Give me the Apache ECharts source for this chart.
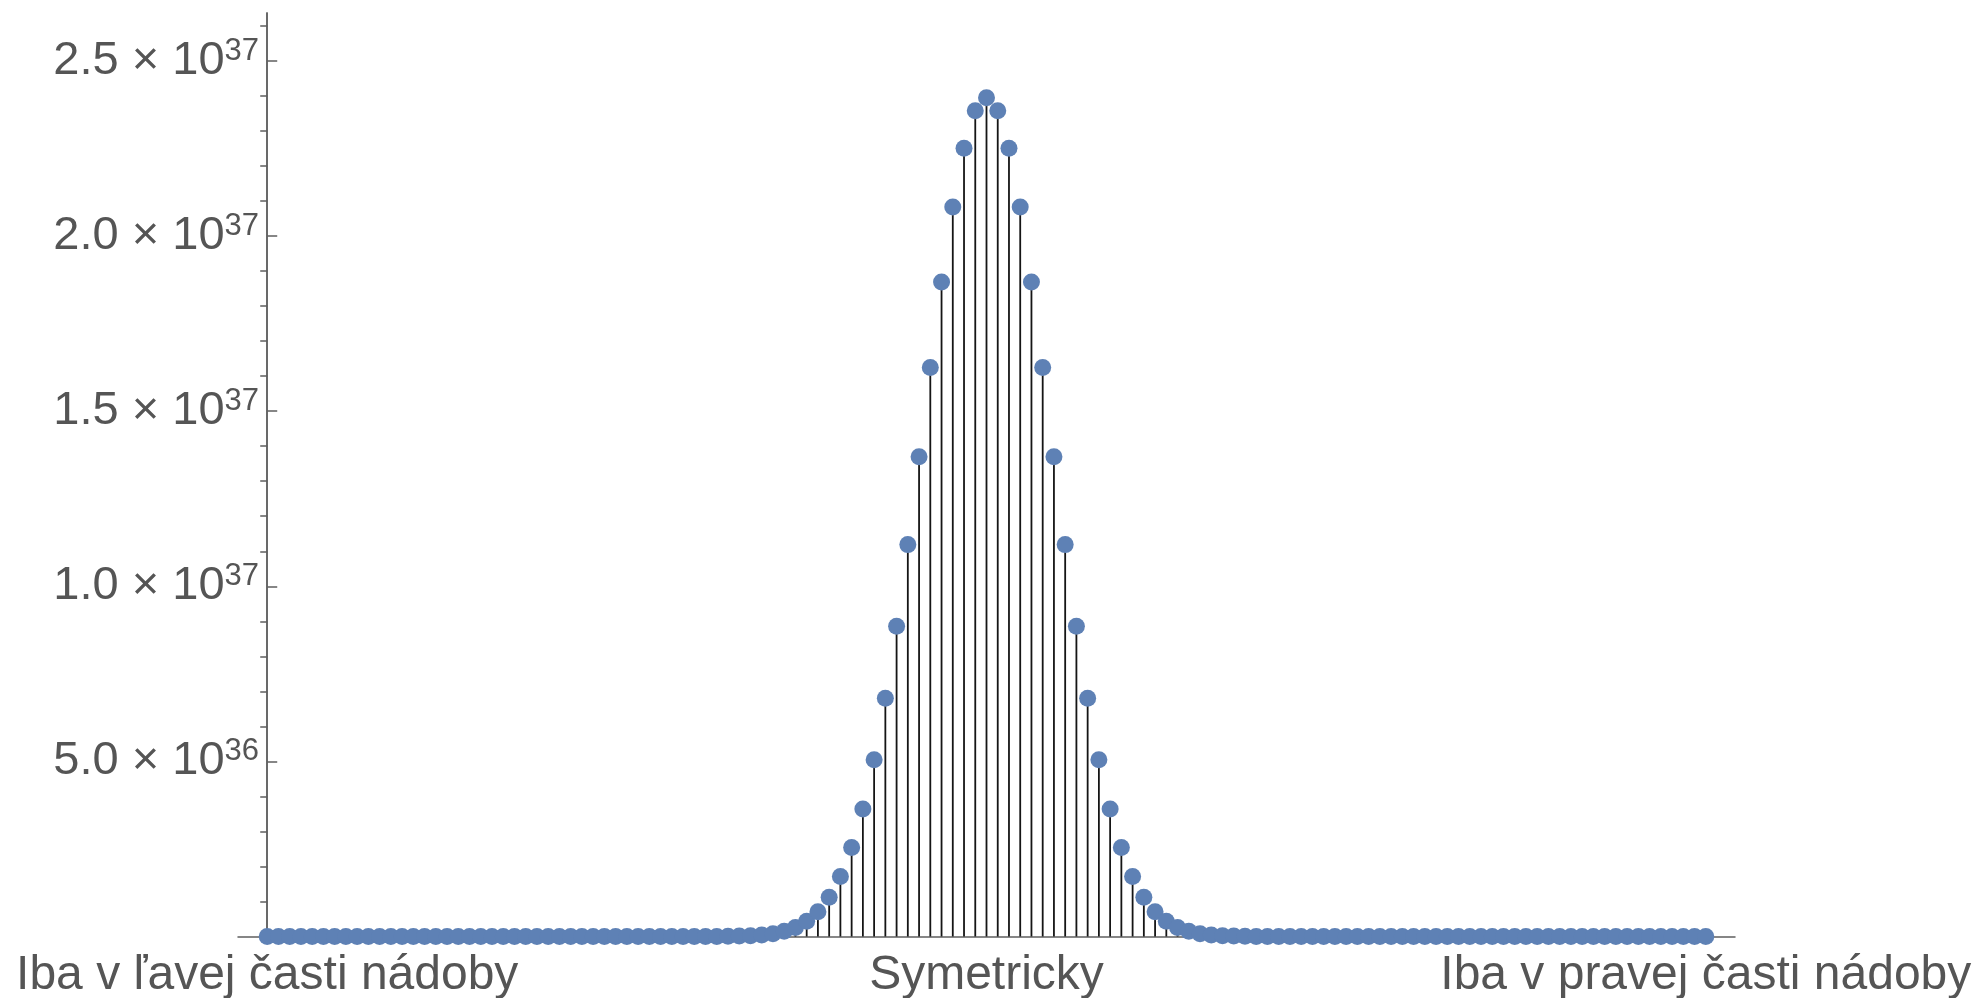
<!DOCTYPE html>
<html><head><meta charset="utf-8">
<script src="https://cdn.jsdelivr.net/npm/echarts@6/dist/echarts.min.js"></script>
<style>html,body{margin:0;padding:0;background:#fff}#c{width:1980px;height:998px}</style>
</head><body><div id="c"></div>
<script>
// values in units of 1e36, one per position 0..128
const counts = [
  0,0,0,0,0,0,0,0,0,0,
  0,0,0,0,0,0,0,0,0,0,
  0,0,0,0,0,0,0,0,0,0,
  0,0,0,0,0,0,0,0,0,0.00115,
  0.00255,0.00547,0.0113,0.0227,0.0438,0.0817,0.147,0.257,0.434,0.709,
  1.12,1.71,2.54,3.64,5.05,6.80,8.86,11.19,13.70,16.25,
  18.69,20.83,22.51,23.58,23.95,23.58,22.51,20.83,18.69,16.25,
  13.70,11.19,8.86,6.80,5.05,3.64,2.54,1.71,1.12,0.709,
  0.434,0.257,0.147,0.0817,0.0438,0.0227,0.0113,0.00547,0.00255,0.00115,
  0,0,0,0,0,0,0,0,0,0,
  0,0,0,0,0,0,0,0,0,0,
  0,0,0,0,0,0,0,0,0,0,
  0,0,0,0,0,0,0,0,0
];
const xLabelPositions = [0, 64, 128];
const xLabels = ['Iba v ľavej časti nádoby', 'Symetricky', 'Iba v pravej časti nádoby'];
const yTickValues = [5, 10, 15, 20, 25];
const yTickMantissas = ['5.0', '1.0', '1.5', '2.0', '2.5'];
const yTickExponents = ['36', '37', '37', '37', '37'];
const yMinorTicks = [1,2,3,4,6,7,8,9,11,12,13,14,16,17,18,19,21,22,23,24,26];

const FONT = "'Liberation Sans', Arial, sans-serif";
const AXIS_COLOR = '#5f5f5f';
const TEXT_COLOR = '#555555';
const points = counts.map((v, i) => [i, v]);

const chart = echarts.init(document.getElementById('c'), null, {renderer: 'canvas'});
chart.setOption({
  animation: false,
  backgroundColor: '#ffffff',
  grid: {left: 238, right: 245, top: 13, bottom: 61.5, containLabel: false, outerBoundsMode: 'none'},
  xAxis: {
    type: 'value', min: -2.6, max: 130.6,
    axisLine: {show: true, onZero: false, lineStyle: {color: AXIS_COLOR, width: 1.5}},
    axisTick: {show: false},
    splitLine: {show: false},
    axisLabel: {
      customValues: xLabelPositions,
      formatter: v => xLabels[xLabelPositions.indexOf(v)],
      fontSize: 48, color: TEXT_COLOR, fontFamily: FONT, margin: 15
    }
  },
  yAxis: [{
    type: 'value', min: 0, max: 26.37,
    axisLine: {show: true, onZero: true, onZeroAxisIndex: 0, lineStyle: {color: AXIS_COLOR, width: 1.5}},
    axisTick: {show: true, inside: true, length: 10, customValues: yTickValues, lineStyle: {color: AXIS_COLOR, width: 1.5}},
    splitLine: {show: false},
    axisLabel: {
      customValues: yTickValues,
      margin: -21,
      formatter: v => {
        const i = yTickValues.indexOf(v);
        return '{m|' + yTickMantissas[i] + ' \u00d7 10}{e|' + yTickExponents[i] + '}';
      },
      rich: {
        m: {fontSize: 47, color: TEXT_COLOR, fontFamily: FONT, lineHeight: 50},
        e: {fontSize: 31, color: TEXT_COLOR, fontFamily: FONT, verticalAlign: 'top', lineHeight: 20}
      }
    }
  }, {
    type: 'value', min: 0, max: 26.37,
    axisLine: {show: true, onZero: true, onZeroAxisIndex: 0, lineStyle: {color: AXIS_COLOR, width: 1.5}},
    axisTick: {show: true, inside: true, length: 7, customValues: yMinorTicks, lineStyle: {color: AXIS_COLOR, width: 1.5}},
    splitLine: {show: false},
    axisLabel: {show: false}
  }],
  series: [{
    type: 'custom',
    data: points,
    renderItem: (params, api) => {
      const x = api.value(0), y = api.value(1);
      const p0 = api.coord([x, 0]);
      const p1 = api.coord([x, y]);
      return {type: 'line', shape: {x1: p0[0], y1: p0[1], x2: p1[0], y2: p1[1]},
              style: {stroke: '#151515', lineWidth: 1.8}};
    },
    z: 2
  }, {
    type: 'scatter',
    data: points,
    symbol: 'circle',
    symbolSize: 17,
    itemStyle: {color: '#5E81B5', opacity: 1},
    z: 3
  }]
});
</script>
</body></html>
